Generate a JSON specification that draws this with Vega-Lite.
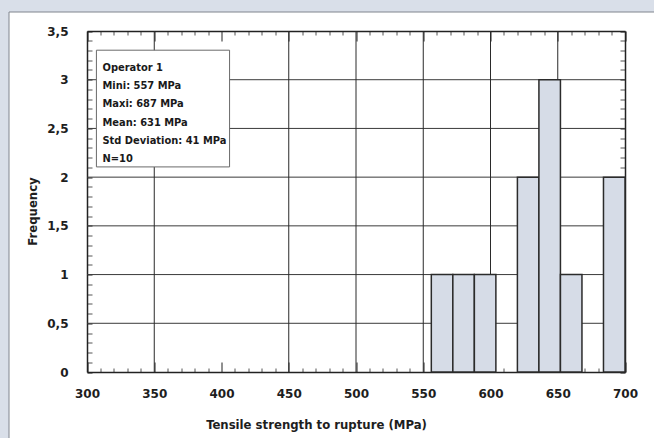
{
  "$schema": "https://vega.github.io/schema/vega-lite/v6.json",
  "autosize": {"type": "none"},
  "padding": {"left": 8.5, "top": 11.5, "right": 0, "bottom": 0},
  "width": 646,
  "height": 427,
  "background": "#d9dfe9",
  "view": {"fill": "white", "stroke": "#80858e", "strokeWidth": 1},
  "config": {
    "axis": {
      "labelFont": "DejaVu Sans",
      "labelFontWeight": "bold",
      "labelFontSize": 12,
      "labelColor": "#1e1e1e",
      "domainColor": "#222222",
      "domainWidth": 1.5,
      "tickWidth": 1,
      "grid": false,
      "titleFont": "Liberation Sans Narrow, DejaVu Sans Condensed, sans-serif",
      "titleFontWeight": "bold",
      "titleFontSize": 13,
      "titleColor": "#1e1e1e",
      "labelOverlap": false,
      "labelFlush": false
    }
  },
  "datasets": {
    "bins": [
      {"lo": 556, "hi": 572, "n": 1},
      {"lo": 572, "hi": 588, "n": 1},
      {"lo": 588, "hi": 604, "n": 1},
      {"lo": 620, "hi": 636, "n": 2},
      {"lo": 636, "hi": 652, "n": 3},
      {"lo": 652, "hi": 668, "n": 1},
      {"lo": 684, "hi": 700, "n": 2}
    ],
    "vgrid": [{"v": 350}, {"v": 450}, {"v": 500}, {"v": 550}, {"v": 600}, {"v": 650}],
    "hgrid": [{"h": 0.5}, {"h": 1}, {"h": 1.5}, {"h": 2}, {"h": 2.5}, {"h": 3}],
    "stats": [
      {"lines": ["Operator 1", "Mini: 557 MPa", "Maxi: 687 MPa", "Mean: 631 MPa", "Std Deviation: 41 MPa", "N=10"]}
    ]
  },
  "resolve": {"axis": {"x": "independent", "y": "independent"}},
  "layer": [
    {
      "data": {"name": "hgrid"},
      "mark": {"type": "rule", "color": "#3a3a3a", "strokeWidth": 1},
      "encoding": {
        "y": {
          "field": "h", "type": "quantitative",
          "scale": {"domain": [0, 3.5], "range": [360.5, 19.5], "nice": false, "zero": false},
          "axis": {
            "orient": "left",
            "offset": -78.5,
            "values": [0, 0.1, 0.2, 0.3, 0.4, 0.5, 0.6, 0.7, 0.8, 0.9, 1, 1.1, 1.2, 1.3, 1.4, 1.5, 1.6, 1.7, 1.8, 1.9, 2, 2.1, 2.2, 2.3, 2.4, 2.5, 2.6, 2.7, 2.8, 2.9, 3, 3.1, 3.2, 3.3, 3.4, 3.5],
            "labelExpr": "abs(datum.value*2 - round(datum.value*2)) < 0.001 ? replace(format(datum.value, '~g'), '.', ',') : ''",
            "tickSize": -5,
            "tickColor": {"condition": {"test": "abs(datum.value*2 - round(datum.value*2)) < 0.001", "value": "#222222"}, "value": "#555555"},
            "labelPadding": 24,
            "title": "Frequency",
            "titleAngle": 270,
            "titleX": -55,
            "titleY": 199.5,
            "titleAlign": "center",
            "titleBaseline": "middle"
          }
        },
        "x": {"datum": 300, "type": "quantitative", "scale": {"domain": [300, 700], "range": [78.5, 616.5], "nice": false, "zero": false}, "axis": null},
        "x2": {"datum": 700}
      }
    },
    {
      "data": {"name": "vgrid"},
      "mark": {"type": "rule", "color": "#2a2a2a", "strokeWidth": 1},
      "encoding": {
        "x": {
          "field": "v", "type": "quantitative",
          "scale": {"domain": [300, 700], "range": [78.5, 616.5], "nice": false, "zero": false},
          "axis": {
            "orient": "bottom",
            "offset": -66.5,
            "values": [300, 310, 320, 330, 340, 350, 360, 370, 380, 390, 400, 410, 420, 430, 440, 450, 460, 470, 480, 490, 500, 510, 520, 530, 540, 550, 560, 570, 580, 590, 600, 610, 620, 630, 640, 650, 660, 670, 680, 690, 700],
            "labelExpr": "datum.value % 50 === 0 ? datum.label : ''",
            "tickSize": {"condition": {"test": "datum.value % 50 === 0", "value": -10}, "value": -4},
            "tickColor": {"condition": {"test": "datum.value % 50 === 0", "value": "#222222"}, "value": "#555555"},
            "labelPadding": 26,
            "title": "Tensile strength to rupture (MPa)",
            "titleX": 307.5,
            "titleY": 52,
            "titleAlign": "center",
            "titleBaseline": "middle"
          }
        },
        "y": {"datum": 0, "type": "quantitative", "scale": {"domain": [0, 3.5], "range": [360.5, 19.5], "nice": false, "zero": false}, "axis": null},
        "y2": {"datum": 3.5}
      }
    },
    {
      "data": {"name": "bins"},
      "mark": {"type": "rect", "fill": "#d6dce7", "stroke": "#2b2b2b", "strokeWidth": 1.5},
      "encoding": {
        "x": {"field": "lo", "type": "quantitative", "scale": {"domain": [300, 700], "range": [78.5, 616.5], "nice": false, "zero": false}, "axis": null},
        "x2": {"field": "hi"},
        "y": {"field": "n", "type": "quantitative", "scale": {"domain": [0, 3.5], "range": [360.5, 19.5], "nice": false, "zero": false}, "axis": null},
        "y2": {"datum": 0}
      }
    },
    {
      "data": {"name": "stats"},
      "mark": {"type": "rect", "fill": "white", "stroke": "#6a6a6a", "strokeWidth": 1},
      "encoding": {
        "x": {
          "datum": 307, "type": "quantitative",
          "scale": {"domain": [300, 700], "range": [78.5, 616.5], "nice": false, "zero": false},
          "axis": {
            "orient": "top",
            "offset": -19.5,
            "values": [300, 310, 320, 330, 340, 350, 360, 370, 380, 390, 400, 410, 420, 430, 440, 450, 460, 470, 480, 490, 500, 510, 520, 530, 540, 550, 560, 570, 580, 590, 600, 610, 620, 630, 640, 650, 660, 670, 680, 690, 700],
            "labels": false,
            "tickSize": {"condition": {"test": "datum.value % 50 === 0", "value": -10}, "value": -4},
            "tickColor": {"condition": {"test": "datum.value % 50 === 0", "value": "#222222"}, "value": "#555555"},
            "title": null
          }
        },
        "x2": {"datum": 406},
        "y": {
          "datum": 3.303, "type": "quantitative",
          "scale": {"domain": [0, 3.5], "range": [360.5, 19.5], "nice": false, "zero": false},
          "axis": {
            "orient": "right",
            "offset": -29.5,
            "values": [0, 0.1, 0.2, 0.3, 0.4, 0.5, 0.6, 0.7, 0.8, 0.9, 1, 1.1, 1.2, 1.3, 1.4, 1.5, 1.6, 1.7, 1.8, 1.9, 2, 2.1, 2.2, 2.3, 2.4, 2.5, 2.6, 2.7, 2.8, 2.9, 3, 3.1, 3.2, 3.3, 3.4, 3.5],
            "labels": false,
            "tickSize": -5,
            "tickColor": {"condition": {"test": "abs(datum.value*2 - round(datum.value*2)) < 0.001", "value": "#222222"}, "value": "#555555"},
            "title": null
          }
        },
        "y2": {"datum": 2.105}
      }
    },
    {
      "data": {"name": "stats"},
      "mark": {
        "type": "text",
        "align": "left",
        "baseline": "alphabetic",
        "lineHeight": 18.2,
        "font": "Liberation Sans Narrow, DejaVu Sans Condensed, sans-serif",
        "fontSize": 11,
        "fontWeight": "bold",
        "color": "#1a1a1a"
      },
      "encoding": {
        "text": {"field": "lines"},
        "x": {"datum": 311.5, "type": "quantitative", "scale": {"domain": [300, 700], "range": [78.5, 616.5], "nice": false, "zero": false}, "axis": null},
        "y": {"datum": 3.09, "type": "quantitative", "scale": {"domain": [0, 3.5], "range": [360.5, 19.5], "nice": false, "zero": false}, "axis": null}
      }
    }
  ]
}
